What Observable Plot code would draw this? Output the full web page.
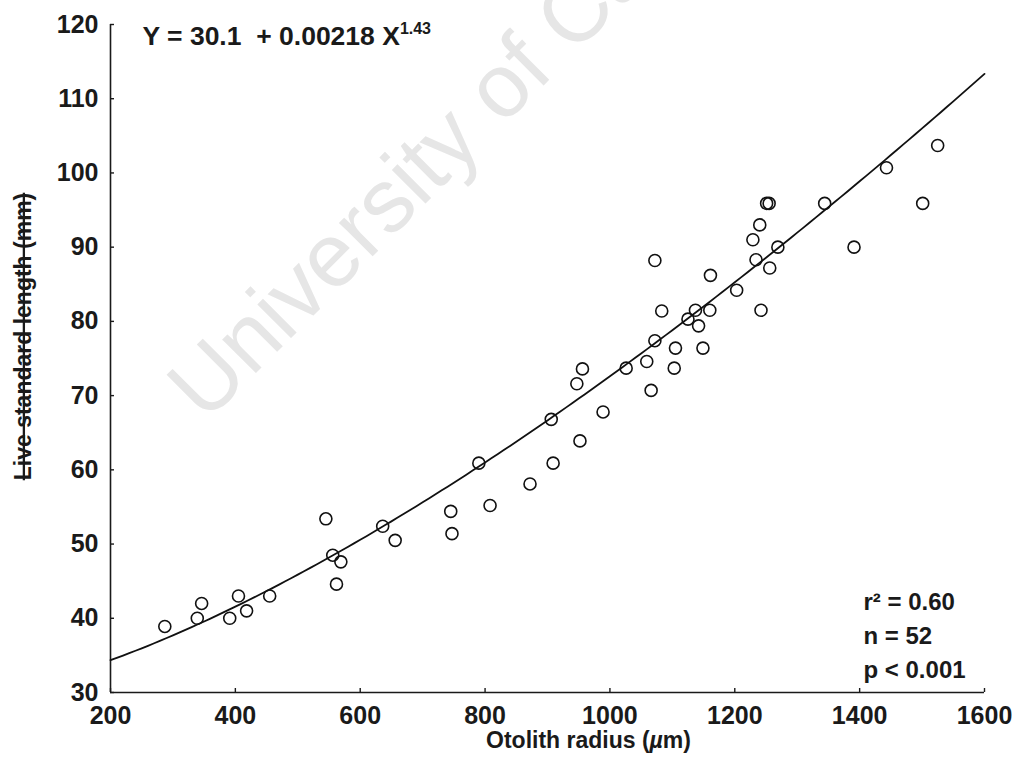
<!DOCTYPE html>
<html>
<head>
<meta charset="utf-8">
<script src="https://cdn.jsdelivr.net/npm/d3@7"></script>
<script src="https://cdn.jsdelivr.net/npm/@observablehq/plot@0.6"></script>
<style>
  body { margin: 0; background: #fff; }
  #chart svg { overflow: visible; }
</style>
</head>
<body>
<div id="chart"></div>
<script>
// Otolith radius (µm) and live standard length (mm) for each fish
const radius = [287, 339, 346, 391, 405, 418, 455, 545, 556, 562, 569, 636, 656, 745, 747,
  790, 808, 872, 906, 909, 947, 952, 956, 989, 1026, 1059, 1066, 1072, 1072, 1083, 1103,
  1105, 1125, 1137, 1142, 1149, 1160, 1161, 1203, 1229, 1234, 1240, 1242, 1251, 1255, 1256,
  1269, 1344, 1391, 1443, 1501, 1525];
const lengthMm = [38.9, 40, 42, 40, 43, 41, 43, 53.4, 48.5, 44.6, 47.6, 52.4, 50.5, 54.4, 51.4,
  60.9, 55.2, 58.1, 66.8, 60.9, 71.6, 63.9, 73.6, 67.8, 73.7, 74.6, 70.7, 77.4, 88.2, 81.4, 73.7,
  76.4, 80.3, 81.5, 79.4, 76.4, 81.5, 86.2, 84.2, 91, 88.3, 93, 81.5, 95.9, 95.9, 87.2,
  90, 95.9, 90, 100.7, 95.9, 103.7];

// Fitted power curve: Y = a + b·X^c
const fitA = 30.1, fitB = 0.00218, fitC = 1.43;

const xTicks = [200, 400, 600, 800, 1000, 1200, 1400, 1600];
const yTicks = [30, 40, 50, 60, 70, 80, 90, 100, 110, 120];

const equationText = "Y = 30.1  + 0.00218 X";
const equationExponent = "1.43";
const statsLines = ["r² = 0.60", "n = 52", "p < 0.001"];
const xTitle = "Otolith radius (µm)";
const yTitle = "Live standard length (mm)";
const watermark = "University of Cape Town";

const points = radius.map((r, i) => ({radius: r, length: lengthMm[i]}));
const curveX = d3.range(200, 1600.001, 10);
const curve = curveX.map(x => ({radius: x, length: fitA + fitB * Math.pow(x, fitC)}));

const ink = "#1a1a1a";

const plot = Plot.plot({
  width: 1016,
  height: 780,
  marginLeft: 110,
  marginRight: 32,
  marginTop: 24,
  marginBottom: 88,
  style: {
    fontFamily: "'Liberation Sans', Arial, Helvetica, sans-serif",
    fontSize: "25px",
    fontWeight: "bold",
    color: ink,
    background: "#fff"
  },
  x: {domain: [200, 1600]},
  y: {domain: [30, 120]},
  marks: [
    // light diagonal watermark behind the chart
    Plot.text([watermark], {
      text: d => d, frameAnchor: "top-left", dx: 95, dy: 399, rotate: -45,
      textAnchor: "start", lineAnchor: "bottom", fontSize: 90, fontWeight: "normal",
      fill: "#e6e6e6"
    }),
    Plot.axisX({ticks: xTicks, tickFormat: d => String(d), tickSize: -4, tickPadding: 18,
      label: null, fontSize: 25, strokeWidth: 1.4}),
    Plot.axisY({ticks: yTicks, tickFormat: d => String(d), tickSize: -4, tickPadding: 16,
      label: null, fontSize: 25, strokeWidth: 1.4}),
    Plot.ruleX([200], {stroke: ink, strokeWidth: 1.6}),
    Plot.ruleY([30], {stroke: ink, strokeWidth: 1.6}),
    Plot.line(curve, {x: "radius", y: "length", stroke: "#111", strokeWidth: 1.8}),
    Plot.dot(points, {x: "radius", y: "length", r: 6, stroke: "#111", strokeWidth: 1.6, fill: "none"}),
    Plot.text([equationText], {
      text: d => d, frameAnchor: "top-left", dx: 32, dy: 2,
      lineAnchor: "top", textAnchor: "start", fontSize: 26.5, fill: ink
    }),
    Plot.text([statsLines.join("\n")], {
      text: d => d, frameAnchor: "bottom-right", dx: -121, dy: -107,
      lineAnchor: "top", textAnchor: "start", lineHeight: 1.417, fontSize: 24, fill: ink
    }),
    Plot.text([xTitle], {
      text: d => d, frameAnchor: "bottom", dx: 41, dy: 48,
      lineAnchor: "middle", textAnchor: "middle", fontSize: 23, fill: ink
    }),
    Plot.text([yTitle], {
      text: d => d, frameAnchor: "left", dx: -87, dy: -22, rotate: -90,
      lineAnchor: "middle", textAnchor: "middle", fontSize: 23, fill: ink
    })
  ]
});

document.getElementById("chart").appendChild(plot);

// Typographic details: exponent on the fit equation, italic µ, struck-through y title
d3.select(plot).selectAll("text").each(function () {
  const t = d3.select(this);
  const content = this.textContent;
  if (content === equationText) {
    t.style("white-space", "pre");
    t.append("tspan").attr("dy", "-11").attr("font-size", 16).text(equationExponent);
  } else if (content === xTitle) {
    t.text(null);
    t.append("tspan").text("Otolith radius (");
    t.append("tspan").attr("font-style", "italic").text("µ");
    t.append("tspan").text("m)");
  } else if (content === yTitle) {
    t.style("text-decoration", "line-through");
  }
});
</script>
</body>
</html>
